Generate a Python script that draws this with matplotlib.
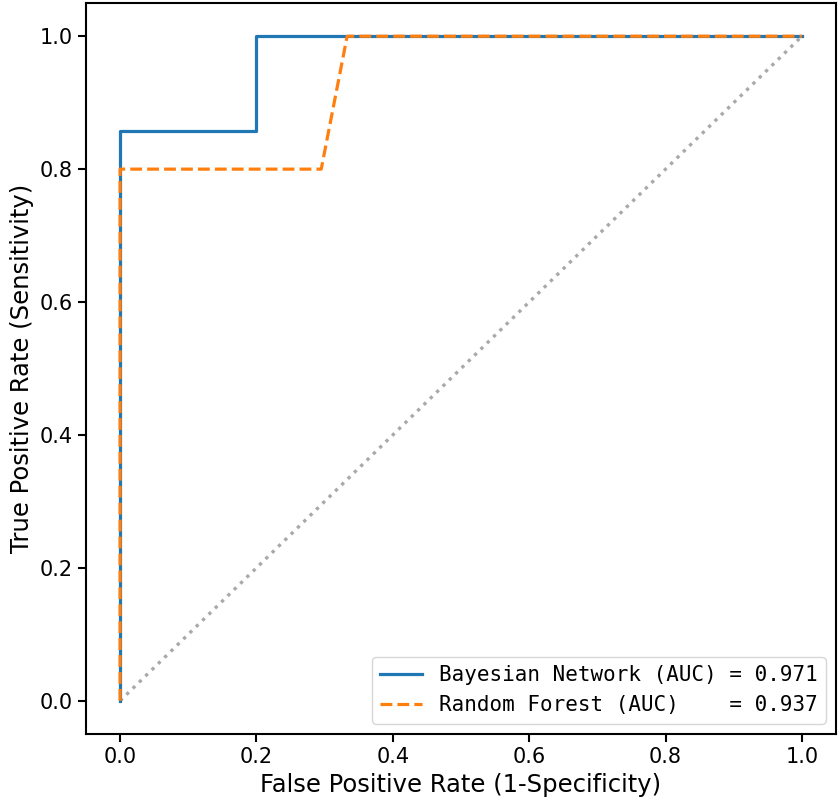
import matplotlib
matplotlib.use('Agg')
import matplotlib.pyplot as plt

# ROC points
bn_fpr = [0.0, 0.0, 0.2, 0.2, 1.0]
bn_tpr = [0.0, 0.857, 0.857, 1.0, 1.0]
rf_fpr = [0.0, 0.0, 0.295, 0.333, 1.0]
rf_tpr = [0.0, 0.8, 0.8, 1.0, 1.0]
bn_auc = 0.971
rf_auc = 0.937
ticks = [0.0, 0.2, 0.4, 0.6, 0.8, 1.0]

fig = plt.figure(figsize=(8.39, 8.07), dpi=100)
ax = fig.add_axes([86/839, 73/807, 750/839, 731/807])

ax.plot([0, 1], [0, 1], ':', color='darkgray', lw=2.4)
ax.plot(bn_fpr, bn_tpr, '-', color='#1f77b4', lw=2.3,
        label='Bayesian Network (AUC) = %.3f' % bn_auc)
ax.plot(rf_fpr, rf_tpr, '--', color='#ff7f0e', lw=2.3,
        label='Random Forest (AUC)    = %.3f' % rf_auc)

ax.set_xlim(-0.05, 1.05)
ax.set_ylim(-0.05, 1.05)
ax.set_xticks(ticks)
ax.set_yticks(ticks)
ax.tick_params(labelsize=15, width=1.5, length=6)
for s in ax.spines.values():
    s.set_linewidth(1.5)
ax.set_xlabel('False Positive Rate (1-Specificity)', fontsize=17.5)
ax.set_ylabel('True Positive Rate (Sensitivity)', fontsize=17.5)
ax.legend(loc='lower right', prop={'family': 'DejaVu Sans Mono', 'size': 15})

fig.savefig('out.png', dpi=100)
